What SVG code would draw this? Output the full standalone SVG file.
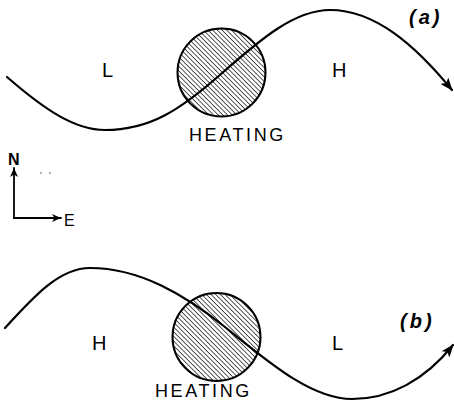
<svg xmlns="http://www.w3.org/2000/svg" width="454" height="405" viewBox="0 0 454 405">
<style>
.curve{fill:none;stroke:#000;stroke-width:2.2;stroke-linecap:round}
.lbl{font-family:"Liberation Sans",Arial,sans-serif;fill:#000}
.big{font-size:20px}
.heat{font-size:18px;letter-spacing:2.6px}
.tag{font-size:20px;font-weight:bold;font-style:italic;letter-spacing:3px}
.hatch{fill:url(#hatch);stroke:#000;stroke-width:2}
</style>
<defs>
<pattern id="hatch" patternUnits="userSpaceOnUse" width="3.3" height="3.3" patternTransform="rotate(-45)">
<rect width="3.3" height="3.3" fill="#fff"/>
<line x1="0" y1="0" x2="0" y2="3.3" stroke="#000" stroke-width="1.3"/>
</pattern>
<marker id="arr" markerWidth="14" markerHeight="10" refX="12" refY="5" orient="auto" markerUnits="userSpaceOnUse">
<path d="M0,0 L13,5 L0,10 L3,5 Z" fill="#000"/>
</marker>
<marker id="arrs" markerWidth="10" markerHeight="8" refX="9" refY="4" orient="auto" markerUnits="userSpaceOnUse">
<path d="M0,0 L9,4 L0,8 L2.5,4 Z" fill="#000"/>
</marker>
</defs>
<rect width="454" height="405" fill="#fff"/>
<g id="heating-a">
<circle class="hatch" cx="221.5" cy="72.5" r="44"/>
<text class="lbl heat" x="189" y="141">HEATING</text>
</g>
<g id="heating-b">
<circle class="hatch" cx="216.5" cy="337" r="44"/>
<text class="lbl heat" x="155" y="397">HEATING</text>
</g>
<g id="labels-a">
<text class="lbl big" x="102" y="77">L</text>
<text class="lbl big" x="332" y="77">H</text>
<text class="lbl tag" x="409" y="24">(a)</text>
</g>
<g id="labels-b">
<text class="lbl big" x="92" y="350">H</text>
<text class="lbl big" x="332" y="350">L</text>
<text class="lbl tag" x="400" y="328">(b)</text>
</g>
<g id="compass">
<text class="lbl" x="8" y="165" font-size="16" font-weight="bold">N</text>
<text class="lbl" x="64" y="226" font-size="16">E</text>
<circle cx="41" cy="173" r="0.8" fill="#555"/>
<circle cx="50" cy="173" r="0.8" fill="#555"/>
</g>
<g id="connectors">
<path class="curve" d="M7,77 C45,110 75,130 105,130 C150,130 180,110 221,74 C262,38 295,10 330,10 C375,10 415,45 452,90" marker-end="url(#arr)"/>
<path class="curve" d="M5,328 C35,295 60,268 90,268 C140,268 185,295 225,327 C265,359 310,399 352,399 C390,399 425,380 453,345" marker-end="url(#arr)"/>
<path class="curve" style="stroke-width:1.8" d="M14,218 L14,168" marker-end="url(#arrs)"/>
<path class="curve" style="stroke-width:1.8" d="M14,218 L61,218" marker-end="url(#arrs)"/>
</g>
</svg>
